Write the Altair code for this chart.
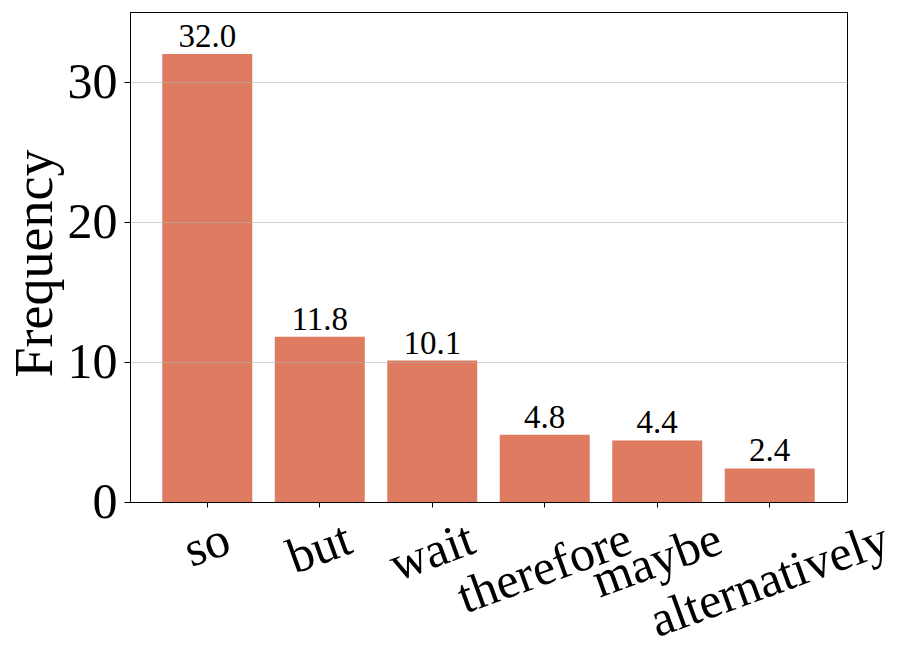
import altair as alt
import pandas as pd

words = ["so", "but", "wait", "therefore", "maybe", "alternatively"]
freqs = [32.0, 11.8, 10.1, 4.8, 4.4, 2.4]

FONT = "Liberation Serif"
LABEL_SIZE = 50
# Times-Roman advance widths (per 1000 em) for lowercase letters, used to
# centre the rotated category labels the way matplotlib does.
TIMES = {"a": 444, "b": 500, "c": 444, "d": 500, "e": 444, "f": 333, "g": 500,
         "h": 500, "i": 278, "j": 278, "k": 500, "l": 278, "m": 778, "n": 500,
         "o": 500, "p": 500, "q": 500, "r": 333, "s": 389, "t": 278, "u": 500,
         "v": 500, "w": 722, "x": 500, "y": 500, "z": 444}


def text_width(s):
    return sum(TIMES.get(c, 500) for c in s) / 1000.0 * LABEL_SIZE


df = pd.DataFrame({"word": words, "freq": freqs})
df["w"] = [text_width(s) for s in words]

xscale = alt.Scale(paddingInner=0.2, paddingOuter=0.287)

x = alt.X("word:N", sort=words, scale=xscale,
          axis=alt.Axis(title=None, labels=False, ticks=True, tickSize=5,
                        tickColor="black", tickWidth=1, domainColor="black",
                        domainWidth=1, grid=False, zindex=1))
y = alt.Y("freq:Q", scale=alt.Scale(domain=[0, 35], nice=False, zero=True),
          axis=alt.Axis(values=[0, 10, 20, 30], title="Frequency",
                        labelFont=FONT, labelFontSize=50, labelColor="black",
                        labelPadding=7, tickSize=6, tickColor="black",
                        tickWidth=1, domainColor="black", domainWidth=1,
                        grid=True, gridColor="#b0b0b0", gridOpacity=0.6,
                        gridWidth=1, zindex=1,
                        titleFont=FONT, titleFontSize=54,
                        titleFontWeight="normal", titleColor="black",
                        titleAngle=270, titleX=-79, titleY=251,
                        titleBaseline="alphabetic", titleAlign="center"))

bars = alt.Chart(df).mark_bar(color="#DE7B61").encode(x=x, y=y)

values = alt.Chart(df).mark_text(
    font=FONT, fontSize=33, baseline="alphabetic", dy=-7, color="black"
).encode(
    x=alt.X("word:N", sort=words),
    y=alt.Y("freq:Q"),
    text=alt.Text("freq:Q", format=".1f"),
)

labels = alt.Chart(df).transform_calculate(
    off="36 + datum.w * 0.171"
).mark_text(
    font=FONT, fontSize=LABEL_SIZE, angle=340, align="center",
    baseline="middle", color="black"
).encode(
    x=alt.X("word:N", sort=words),
    y=alt.datum(0),
    yOffset=alt.YOffset("off:Q", scale=None),
    text="word:N",
)

chart = alt.layer(bars, values, labels).properties(
    width=717, height=490,
    background="white",
    autosize=alt.AutoSizeParams(type="none"),
    padding={"left": 122, "top": 4, "right": 58, "bottom": 149},
).configure_view(
    stroke="black", strokeWidth=1
)

chart.save("out.html", embed_options={"renderer": "svg", "actions": False})
